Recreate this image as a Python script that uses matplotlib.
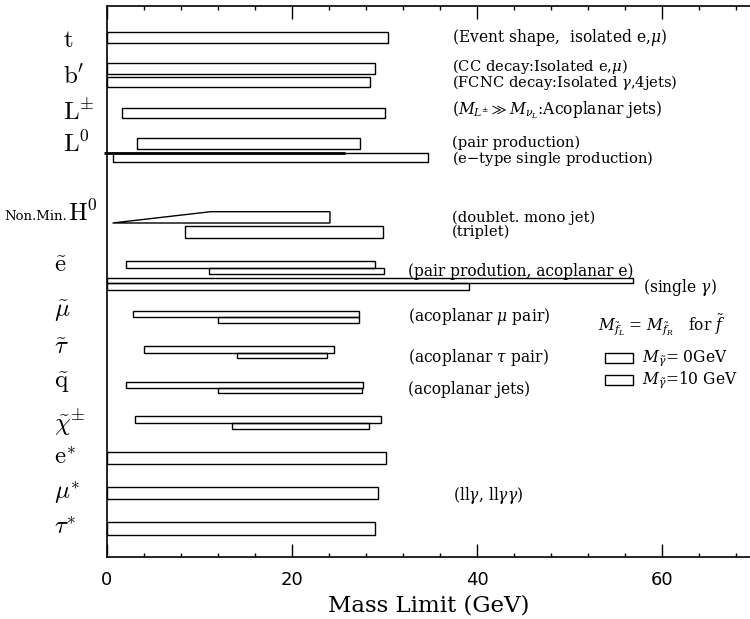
import matplotlib
matplotlib.use("Agg")
import matplotlib.pyplot as plt
from matplotlib.patches import Rectangle, Polygon
from matplotlib.ticker import MultipleLocator

plt.rcParams['mathtext.fontset'] = 'dejavuserif'

# ---------------- data (mass limits in GeV) ----------------
bar_labels = ["t", "b'_CC", "b'_FCNC", "L+-", "L0_pair", "L0_single",
              "H0_triplet", "e_0", "e_10", "e_sg_0", "e_sg_10",
              "mu_0", "mu_10", "tau_0", "tau_10", "q_0", "q_10",
              "chi_0", "chi_10", "e*", "mu*", "tau*"]
bar_low = [0, 0, 0, 1.6, 3.2, 0.7,
           8.4, 2.1, 11.0, 0, 0,
           2.8, 12.0, 4.0, 14.0, 2.1, 12.0,
           3.0, 13.5, 0, 0, 0]
bar_high = [30.4, 29.0, 28.4, 30.0, 27.3, 34.7,
            29.8, 29.0, 29.9, 56.9, 39.1,
            27.2, 27.2, 24.5, 23.8, 27.7, 27.6,
            29.6, 28.3, 30.2, 29.3, 29.0]
# doublet Higgs (mono jet) region: excluded band with sloped lower boundary
h0_doublet_mass = [0.6, 11.2, 24.1, 24.1]
l0_rule_end = 25.7

# ---------------- layout (vertical position of each bar, top/bottom) ----------------
bar_top = [32.3, 63.3, 76.7, 107.7, 138.3, 152.7,
           226.0, 261.3, 267.7, 278.3, 283.3,
           310.7, 317.3, 345.7, 352.7, 381.7, 387.7,
           416.0, 423.3, 451.7, 487.3, 522.3]
bar_bot = [42.7, 74.0, 87.3, 118.3, 149.0, 162.3,
           238.3, 267.7, 273.7, 283.3, 290.0,
           317.3, 322.7, 352.7, 358.3, 387.7, 393.3,
           423.3, 428.7, 463.7, 499.0, 535.0]
h0_doublet_y = [223.0, 211.7, 211.7, 223.0]

W, H = 750, 619
fig = plt.figure(figsize=(7.5, 6.19), dpi=100)
ax = fig.add_axes([107 / W, (H - 557) / H, (W - 107) / W, (557 - 5.7) / H])
ax.set_xlim(0, 69.5)
ax.set_ylim(557, 5.7)

lw = 1.0
for lo, hi, t, b in zip(bar_low, bar_high, bar_top, bar_bot):
    ax.add_patch(Rectangle((lo, t), hi - lo, b - t, fill=False,
                           edgecolor='black', linewidth=lw))
ax.add_patch(Polygon(list(zip(h0_doublet_mass, h0_doublet_y)), closed=True,
                     fill=False, edgecolor='black', linewidth=lw))
ax.plot([-0.3, l0_rule_end], [152.7, 152.7], color='black', linewidth=2.0,
        clip_on=False, solid_capstyle='butt')

# spines & ticks
for s in ['left', 'bottom', 'top']:
    ax.spines[s].set_linewidth(1.2)
ax.spines['right'].set_visible(False)
ax.set_yticks([])
ax.xaxis.set_major_locator(MultipleLocator(20))
ax.xaxis.set_minor_locator(MultipleLocator(4))
ax.tick_params(axis='x', which='major', direction='in', length=9.5, width=1.0,
               top=True, bottom=True, labelsize=13, pad=10)
ax.tick_params(axis='x', which='minor', direction='in', length=3, width=1.0,
               top=True, bottom=True)
for lab in ax.get_xticklabels():
    lab.set_family('DejaVu Sans')
ax.set_xlabel('Mass Limit (GeV)', fontsize=16.5, family='DejaVu Serif', labelpad=4)

# left category labels (figure pixel positions)
def ftext(x, y, s, **kw):
    fig.text(x / W, 1 - y / H, s, **kw)

lab_kw = dict(fontsize=18, va='center', ha='left', math_fontfamily='cm')
left_labels = [(63, 40, r"$\mathrm{t}$"), (63, 77, r"$\mathrm{b}'$"),
               (63, 112, r"$\mathrm{L}^{\pm}$"), (63, 144, r"$\mathrm{L}^{0}$"),
               (68, 213, r"$\mathrm{H}^{0}$"),
               (54, 265, r"$\tilde{\mathrm{e}}$"), (54, 311, r"$\tilde{\mu}$"),
               (54, 347, r"$\tilde{\tau}$"), (54, 383, r"$\tilde{\mathrm{q}}$"),
               (54, 423, r"$\tilde{\chi}^{\pm}$"), (54, 457, r"$\mathrm{e}^{*}$"),
               (54, 493, r"$\mu^{*}$"), (54, 527, r"$\tau^{*}$")]
for x, y, s in left_labels:
    ftext(x, y, s, **lab_kw)
ftext(67, 217, "Non.Min.", fontsize=9.5, family='DejaVu Serif',
      va='center', ha='right')

# annotations (x in GeV, y in layout units, font size)
ann_kw = dict(family='DejaVu Serif', va='center', ha='left')
annotations = [(37.3, 38, r"(Event shape,  isolated e,$\mu$)", 11.2),
               (37.3, 66.0, r"(CC decay:Isolated e,$\mu$)", 10.6),
               (37.3, 83.0, r"(FCNC decay:Isolated $\gamma$,4jets)", 10.6),
               (37.3, 110, r"($M_{L^{\pm}} \gg M_{\nu_L}$:Acoplanar jets)", 11.2),
               (37.3, 142.5, r"(pair production)", 10.6),
               (37.3, 158.5, r"(e$-$type single production)", 10.6),
               (37.3, 217.5, r"(doublet. mono jet)", 10.6),
               (37.3, 232.0, r"(triplet)", 10.6),
               (32.5, 271, r"(pair prodution, acoplanar e)", 11.2),
               (57.9, 287, r"(single $\gamma$)", 11.2),
               (32.5, 316.5, r"(acoplanar $\mu$ pair)", 11.2),
               (32.5, 358, r"(acoplanar $\tau$ pair)", 11.2),
               (32.5, 389, r"(acoplanar jets)", 11.2),
               (37.4, 495, r"(ll$\gamma$, ll$\gamma\gamma$)", 11.2)]
for x, y, s, fs in annotations:
    ax.text(x, y, s, fontsize=fs, **ann_kw)

# legend block
ax.text(53.1, 325, r"$M_{\tilde{f}_L}$ = $M_{\tilde{f}_R}$   for $\tilde{f}$",
        fontsize=11.2, **ann_kw)
legend_rows = [(358, r"$M_{\tilde{\gamma}}$= 0GeV"), (380, r"$M_{\tilde{\gamma}}$=10 GeV")]
for yc, s in legend_rows:
    ax.add_patch(Rectangle((53.8, yc - 5), 3.1, 10, fill=False,
                           edgecolor='black', linewidth=lw))
    ax.text(57.8, yc, s, fontsize=11.2, **ann_kw)

fig.savefig('out.png', dpi=100)
